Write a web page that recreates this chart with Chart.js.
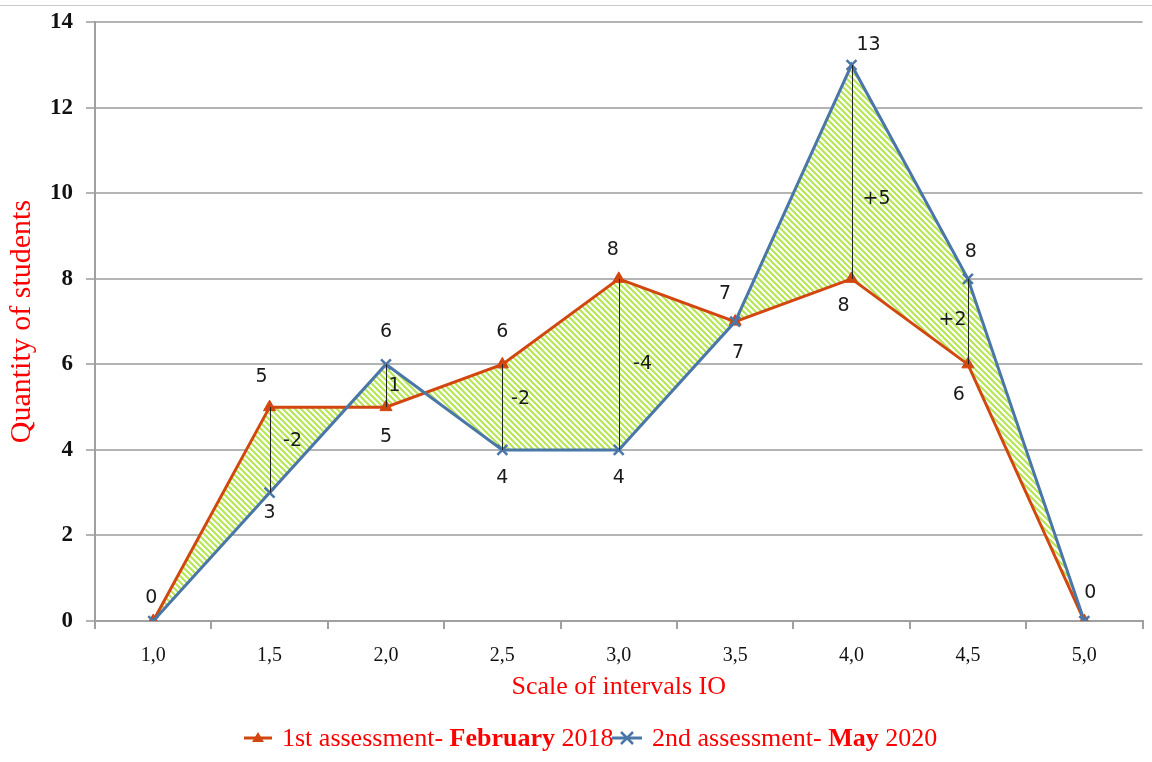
<!DOCTYPE html>
<html>
<head>
<meta charset="utf-8">
<script src="https://cdn.jsdelivr.net/npm/chart.js@4"></script>
<style>
    html, body { margin: 0; padding: 0; background: #fff; }
    #wrap { position: relative; width: 1152px; height: 762px; }
    #wrap:before {
        content: ""; position: absolute; left: 0; right: 0; top: 5px;
        border-top: 1px solid #c8c8c8;
    }
    #legend {
        position: absolute; top: 722px; left: 0; width: 1152px;
        font-family: "Liberation Serif", "Times New Roman", serif;
        font-size: 26px; color: #ff0000; white-space: nowrap;
    }
    #legend .item { position: absolute; top: 0; display: flex; align-items: center; height: 32px; }
    #legend svg { margin-right: 10px; }
</style>
</head>
<body>
<div id="wrap">
    <canvas id="chart" width="1152" height="762"></canvas>
    <div id="legend">
        <div class="item" style="left:244px">
            <svg width="28" height="16"><line x1="0" y1="8" x2="28" y2="8" stroke="#d2460f" stroke-width="3"/><polygon points="14,2 20,12 8,12" fill="#d2460f"/></svg>
            <span>1st assessment- <b>February</b> 2018</span>
        </div>
        <div class="item" style="left:612px">
            <svg width="30" height="16"><line x1="0" y1="8" x2="30" y2="8" stroke="#4a76a8" stroke-width="3"/><path d="M9,2 L21,14 M21,2 L9,14" stroke="#4a76a8" stroke-width="2.5"/></svg>
            <span>2nd assessment- <b>May</b> 2020</span>
        </div>
    </div>
</div>
<script>
// 数据
const categories = ["1,0", "1,5", "2,0", "2,5", "3,0", "3,5", "4,0", "4,5", "5,0"];
const feb2018 = [0, 5, 5, 6, 8, 7, 8, 6, 0];
const may2020 = [0, 3, 6, 4, 4, 7, 13, 8, 0];
const yTicks = [0, 2, 4, 6, 8, 10, 12, 14];
const diffIndex = [1, 2, 3, 4, 6, 7];
const diffLabels = ["-2", "1", "-2", "-4", "+5", "+2"];

// label offsets (px) relative to each point; null = not shown
const offsetsFeb = [[-2, -23], [-8, -30], [0, 30], [0, -32], [-6, -29], [-10, -28], [-8, 27], [-9, 31], null];
const offsetsMay = [null, [0, 20], [0, -32], [0, 28], [0, 28], [3, 31], [17, -20], [3, -27], [6, -28]];
const diffOffsets = [[22, -9], [8, 0], [18, -8], [23, 0], [24, 27], [-16, -2]];

const ORANGE = "#d2460f";
const BLUE = "#4a76a8";

// hatched green pattern
function makeHatch() {
    const n = 6;
    const c = document.createElement("canvas");
    c.width = n; c.height = n;
    const g = c.getContext("2d");
    g.fillStyle = "#ffffff";
    g.fillRect(0, 0, n, n);
    g.strokeStyle = "#b6e656";
    g.lineWidth = 2.2;
    g.beginPath();
    g.moveTo(0, 0); g.lineTo(n, n);
    g.moveTo(-1, n - 1); g.lineTo(1, n + 1);
    g.moveTo(n - 1, -1); g.lineTo(n + 1, 1);
    g.stroke();
    return g.createPattern(c, "repeat");
}

// vertical difference lines + value labels
const annotatePlugin = {
    id: "annotate",
    afterDatasetsDraw(chart) {
        const { ctx, scales } = chart;
        const x = scales.x, y = scales.y;
        ctx.save();
        ctx.strokeStyle = "#222";
        ctx.lineWidth = 1;
        ctx.font = "19px 'DejaVu Sans', sans-serif";
        ctx.fillStyle = "#1a1a1a";
        ctx.textAlign = "center";
        ctx.textBaseline = "middle";
        diffIndex.forEach((i, k) => {
            const px = Math.round(x.getPixelForValue(i)) + 0.5;
            const y1 = y.getPixelForValue(feb2018[i]);
            const y2 = y.getPixelForValue(may2020[i]);
            ctx.beginPath();
            ctx.moveTo(px, y1);
            ctx.lineTo(px, y2);
            ctx.stroke();
            const o = diffOffsets[k];
            ctx.fillText(diffLabels[k], px + o[0], (y1 + y2) / 2 + o[1]);
        });
        const drawLabels = (data, offs) => {
            data.forEach((v, i) => {
                const o = offs[i];
                if (!o) return;
                ctx.fillText(String(v), x.getPixelForValue(i) + o[0], y.getPixelForValue(v) + o[1]);
            });
        };
        drawLabels(feb2018, offsetsFeb);
        drawLabels(may2020, offsetsMay);
        ctx.restore();
    },
};

const ctx = document.getElementById("chart").getContext("2d");
new Chart(ctx, {
    type: "line",
    data: {
        labels: categories,
        datasets: [
            {
                label: "1st assessment- February 2018",
                data: feb2018,
                borderColor: ORANGE,
                backgroundColor: makeHatch(),
                borderWidth: 3,
                fill: "+1",
                tension: 0,
                pointStyle: "triangle",
                pointRadius: 7,
                pointBackgroundColor: ORANGE,
                pointBorderColor: ORANGE,
                pointBorderWidth: 1,
                order: 1,
            },
            {
                label: "2nd assessment- May 2020",
                data: may2020,
                borderColor: BLUE,
                backgroundColor: BLUE,
                borderWidth: 3,
                fill: false,
                tension: 0,
                pointStyle: "crossRot",
                pointRadius: 7,
                pointBorderColor: BLUE,
                pointBorderWidth: 2.5,
                order: 0,
            },
        ],
    },
    options: {
        responsive: false,
        animation: false,
        layout: { padding: { top: 22, right: 8, left: 4, bottom: 59 } },
        plugins: {
            legend: { display: false },
            tooltip: { enabled: false },
        },
        scales: {
            x: {
                offset: true,
                grid: {
                    offset: true,
                    drawOnChartArea: false,
                    drawTicks: true,
                    tickLength: 8,
                    color: "#a0a0a0",
                    lineWidth: 2,
                },
                border: { color: "#a0a0a0", width: 2 },
                ticks: {
                    color: "#111",
                    padding: 15,
                    font: { family: "'Liberation Serif', serif", size: 20 },
                },
                title: {
                    display: true,
                    text: "Scale of intervals IO",
                    color: "#ff0000",
                    padding: 0,
                    font: { family: "'Liberation Serif', serif", size: 26 },
                },
                afterFit(scale) { scale.height = 82; },
            },
            y: {
                min: 0,
                max: 14,
                afterBuildTicks(scale) { scale.ticks = yTicks.map((v) => ({ value: v })); },
                grid: {
                    color: "#b4b4b4",
                    lineWidth: 2,
                    tickLength: 9,
                },
                border: { color: "#a0a0a0", width: 2 },
                ticks: {
                    color: "#111",
                    padding: 13,
                    font: { family: "'Liberation Serif', serif", size: 23, weight: "bold", lineHeight: 0.8 },
                },
                title: {
                    display: true,
                    text: "Quantity of students",
                    color: "#ff0000",
                    padding: 0,
                    font: { family: "'Liberation Serif', serif", size: 30 },
                },
                afterFit(scale) { scale.width = 91; },
            },
        },
    },
    plugins: [annotatePlugin],
});
</script>
</body>
</html>
